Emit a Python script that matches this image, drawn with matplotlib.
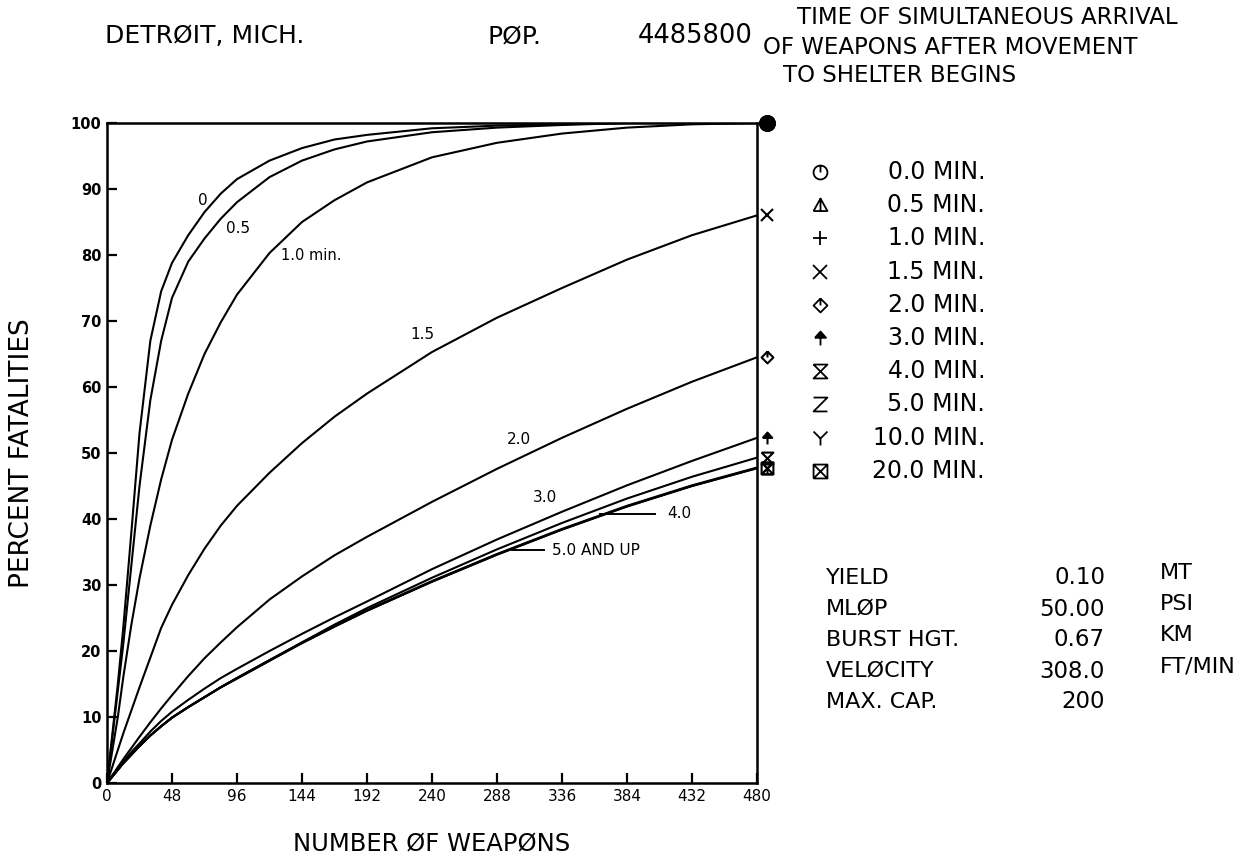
import numpy as np
import matplotlib.pyplot as plt
from matplotlib.path import Path
from matplotlib.transforms import ScaledTranslation

# numero de armas (eje x)
weapons = [0, 4, 8, 12, 18, 24, 32, 40, 48, 60, 72, 84, 96, 120, 144, 168, 192,
           240, 288, 336, 384, 432, 480]

# porcentaje de fatalidades
fat_00 = [0, 7.5, 15, 23.5, 38, 53, 67, 74.5, 78.8, 83, 86.5, 89.3, 91.5, 94.3, 96.2,
          97.5, 98.2, 99.2, 99.6, 99.8, 100, 100, 100]
fat_05 = [0, 7, 14, 21, 33, 45, 58, 67, 73.5, 79, 82.5, 85.5, 88, 91.8, 94.3,
          96, 97.2, 98.6, 99.3, 99.7, 100, 100, 100]
fat_10 = [0, 5, 10, 16, 24, 31, 39, 46, 52, 59, 65, 69.8, 74, 80.3, 85, 88.3, 91,
          94.8, 97, 98.4, 99.3, 99.8, 100]
fat_15 = [0, 2.5, 5, 7.5, 11, 14.5, 19, 23.5, 27, 31.5, 35.5, 39, 42, 47, 51.5,
          55.5, 59, 65.3, 70.5, 75, 79.3, 83, 86]
fat_20 = [0, 1.2, 2.4, 3.6, 5.3, 7, 9.2, 11.3, 13.3, 16.2, 18.9, 21.3, 23.6, 27.8,
          31.3, 34.5, 37.3, 42.6, 47.6, 52.3, 56.7, 60.8, 64.5]
fat_30 = [0, 1.1, 2.2, 3.2, 4.7, 6, 7.8, 9.4, 10.8, 12.6, 14.3, 15.9, 17.3, 20,
          22.6, 25.1, 27.5, 32.4, 36.9, 41.1, 45.1, 48.8, 52.3]
fat_40 = [0, 1, 2, 3, 4.3, 5.6, 7.2, 8.6, 9.9, 11.5, 13, 14.5, 15.9, 18.6, 21.3,
          24, 26.5, 31.1, 35.4, 39.4, 43.1, 46.4, 49.3]
fat_50 = [0, 1, 2, 3, 4.3, 5.6, 7.2, 8.6, 9.9, 11.5, 13, 14.5, 15.9, 18.6, 21.3,
          23.8, 26.2, 30.6, 34.7, 38.5, 42, 45.1, 47.8]
fat_100 = [0, 1, 2, 3, 4.3, 5.6, 7.2, 8.6, 9.9, 11.5, 13, 14.5, 15.9, 18.6, 21.2,
           23.7, 26.1, 30.5, 34.6, 38.4, 41.9, 45, 47.7]
fat_200 = [0, 1, 2, 3, 4.3, 5.6, 7.2, 8.6, 9.9, 11.5, 13, 14.5, 15.8, 18.5, 21.2,
           23.7, 26.1, 30.5, 34.6, 38.4, 41.9, 45, 47.7]

series = [fat_00, fat_05, fat_10, fat_15, fat_20, fat_30, fat_40, fat_50, fat_100, fat_200]
leyenda = ["0.0 MIN.", "0.5 MIN.", "1.0 MIN.", "1.5 MIN.", "2.0 MIN.",
           "3.0 MIN.", "4.0 MIN.", "5.0 MIN.", "10.0 MIN.", "20.0 MIN."]

x_ticks = [0, 48, 96, 144, 192, 240, 288, 336, 384, 432, 480]
y_ticks = [0, 10, 20, 30, 40, 50, 60, 70, 80, 90, 100]

param_nombres = ["YIELD", "MLØP", "BURST HGT.", "VELØCITY", "MAX. CAP."]
param_valores = ["0.10", "50.00", "0.67", "308.0", "200"]
param_unidades = ["MT", "PSI", "KM", "FT/MIN", ""]

# simbolos de plotter hechos a mano
M, L = Path.MOVETO, Path.LINETO
m_circ = Path.make_compound_path(Path.unit_circle(), Path([(0, 0), (0, 1)], [M, L]))
m_tri = Path([(-1, -0.8), (1, -0.8), (0, 1), (-1, -0.8), (0, 1), (0, -0.8)],
             [M, L, L, L, M, L])
m_diam = Path([(0, 1), (1, 0), (0, -1), (-1, 0), (0, 1), (0, 1), (0, 0)],
              [M, L, L, L, L, M, L])
m_flecha = Path([(-0.8, 0.1), (0.8, 0.1), (0, 1), (-0.8, 0.1), (0, 0.1), (0, -1)],
                [M, L, L, L, M, L])
m_reloj = Path([(-1, 1), (1, 1), (-1, -1), (1, -1), (-1, 1)], [M, L, L, L, L])
m_z = Path([(-1, 1), (1, 1), (-1, -1), (1, -1)], [M, L, L, L])
m_y = Path([(-1, 1), (0, 0), (1, 1), (0, 0), (0, -1)], [M, L, M, L, L])
m_caja = Path([(-1, -1), (1, -1), (1, 1), (-1, 1), (-1, -1), (-1, -1), (1, 1), (-1, 1), (1, -1)],
              [M, L, L, L, L, M, L, M, L])
marcas = [m_circ, m_tri, "+", "x", m_diam, m_flecha, m_reloj, m_z, m_y, m_caja]
rellenos = ["none", "none", "none", "none", "none", "k", "none", "none", "none", "none"]

fig = plt.figure(figsize=(12.51, 8.61), dpi=100)
fig.patch.set_facecolor("white")

# capa de texto en pixeles
tx = fig.add_axes([0, 0, 1, 1])
tx.set_xlim(0, 1251)
tx.set_ylim(861, 0)
tx.set_axis_off()

ax = fig.add_axes([107 / 1251, 1 - 783 / 861, 650 / 1251, 660 / 861])
ax.set_xlim(0, 480)
ax.set_ylim(0, 100)

for ys in series:
    ax.plot(weapons, ys, color="black", lw=1.5, solid_capstyle="round")

# marcas al final de cada curva, un poco a la derecha del marco
desplaz = ax.transData + ScaledTranslation(0.1, 0, fig.dpi_scale_trans)
for i, ys in enumerate(series):
    if ys[-1] >= 99.9:
        # las tres marcas se empastan en un punto negro
        ax.plot([weapons[-1]], [ys[-1]], marker="o", ms=11, mfc="k", mec="k",
                transform=desplaz, clip_on=False, ls="none")
    else:
        ax.plot([weapons[-1]], [ys[-1]], marker=marcas[i], ms=8.5, mew=1.5,
                mfc=rellenos[i], mec="black", transform=desplaz, clip_on=False, ls="none")

for s in ax.spines.values():
    s.set_linewidth(1.8)
ax.tick_params(direction="in", length=7, width=1.6, pad=4)
ax.set_xticks(x_ticks)
ax.set_yticks(y_ticks)
ax.set_xticklabels([str(v) for v in x_ticks], fontsize=11)
ax.set_yticklabels([str(v) for v in y_ticks], fontsize=10.5, fontweight="bold")

# etiquetas de las curvas
ax.text(71, 88.3, "0", fontsize=11, ha="center", va="center")
ax.text(96.5, 84, "0.5", fontsize=11, ha="center", va="center")
ax.text(151, 80, "1.0 min.", fontsize=10.5, ha="center", va="center")
ax.text(232.6, 68, "1.5", fontsize=11, ha="center", va="center")
ax.text(304, 52, "2.0", fontsize=11, ha="center", va="center")
ax.text(323.5, 43.2, "3.0", fontsize=11, ha="center", va="center")
ax.plot([364, 405], [40.8, 40.8], color="black", lw=1.4)
ax.text(413.6, 40.8, "4.0", fontsize=11, ha="left", va="center")
ax.plot([299, 323], [35.3, 35.3], color="black", lw=1.4)
ax.text(328.7, 35.3, "5.0 AND UP", fontsize=11, ha="left", va="center")

ax.set_xlabel("NUMBER ØF WEAPØNS", fontsize=17.5, labelpad=20)
ax.set_ylabel("PERCENT FATALITIES", fontsize=19, labelpad=26)

# encabezados
tx.text(105, 36, "DETRØIT, MICH.", fontsize=18, ha="left", va="center")
tx.text(488, 36, "PØP.", fontsize=18, ha="left", va="center")
tx.text(753, 36, "4485800", fontsize=18.5, ha="right", va="center")
tx.text(797, 17, "TIME OF SIMULTANEOUS ARRIVAL", fontsize=16.5, ha="left", va="center")
tx.text(763, 47, "OF WEAPONS AFTER MOVEMENT", fontsize=16.5, ha="left", va="center")
tx.text(783, 76, "TO SHELTER BEGINS", fontsize=16.5, ha="left", va="center")

# leyenda
for i, txt in enumerate(leyenda):
    yy = 172 + 33.2 * i
    tx.plot([820], [yy], marker=marcas[i], ms=10, mew=1.3, mfc=rellenos[i],
            mec="black", ls="none")
    tx.text(985, yy, txt, fontsize=17, ha="right", va="center")

# parametros
for i in range(len(param_nombres)):
    yy = 578 + 31 * i
    tx.text(826, yy, param_nombres[i], fontsize=16, ha="left", va="center")
    tx.text(1105, yy, param_valores[i], fontsize=16.5, ha="right", va="center")
    tx.text(1160, yy - 5, param_unidades[i], fontsize=16, ha="left", va="center")

fig.savefig("out.png", dpi=100, facecolor="white")
